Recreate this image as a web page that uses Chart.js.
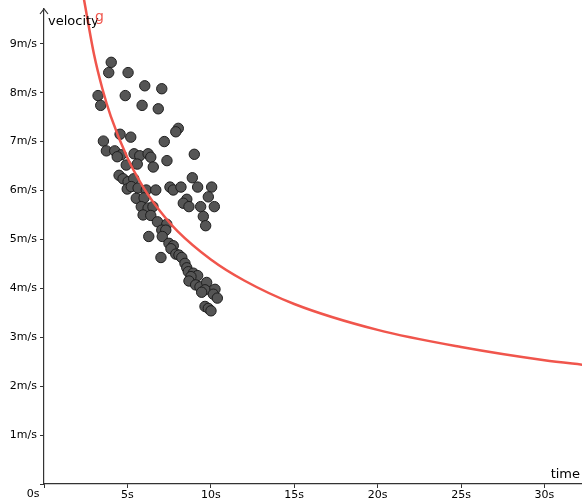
<!DOCTYPE html>
<html>
<head>
<meta charset="utf-8">
<title>velocity vs time</title>
<script src="https://cdn.jsdelivr.net/npm/chart.js@4.4.1/dist/chart.umd.min.js"></script>
<style>
  body { margin: 0; background: #fff; }
  canvas { display: block; }
</style>
</head>
<body>
<canvas id="velocityChart" width="582" height="499"></canvas>
<script>
// 📋 DATA
const sampleTimes = [
  4.03, 3.88, 5.04, 6.04, 7.06, 3.24, 4.87, 3.40, 5.88, 6.85,
  8.05, 7.90, 4.56, 5.20, 3.56, 7.21, 3.74, 4.24, 4.63, 4.39,
  5.40, 5.74, 5.59, 6.24, 6.40, 6.55, 4.93, 9.01, 7.37, 4.50,
  4.74, 5.04, 5.38, 4.99, 5.23, 5.64, 6.13, 6.70, 5.53, 6.00,
  5.83, 6.24, 6.53, 5.94, 6.40, 6.80, 6.28, 7.01, 8.89, 7.55,
  7.75, 8.21, 9.21, 10.05, 9.85, 8.56, 8.35, 8.69, 9.39, 10.21,
  9.55, 9.69, 7.36, 7.06, 7.30, 7.09, 7.49, 7.75, 7.61, 7.90,
  8.09, 8.26, 8.45, 8.56, 8.65, 8.95, 9.21, 8.81, 8.69, 9.09,
  9.35, 9.75, 9.65, 9.45, 10.25, 10.15, 10.39, 9.65, 9.85, 10.01
];
const sampleSpeeds = [
  8.62, 8.41, 8.41, 8.14, 8.08, 7.94, 7.94, 7.74, 7.74, 7.67,
  7.27, 7.20, 7.15, 7.09, 7.01, 7.00, 6.81, 6.81, 6.73, 6.69,
  6.75, 6.71, 6.54, 6.75, 6.68, 6.48, 6.52, 6.74, 6.61, 6.31,
  6.24, 6.18, 6.24, 6.03, 6.08, 6.05, 6.01, 6.01, 5.84, 5.85,
  5.67, 5.64, 5.67, 5.50, 5.49, 5.36, 5.06, 4.63, 6.26, 6.07,
  6.01, 6.07, 6.07, 6.07, 5.87, 5.82, 5.74, 5.67, 5.67, 5.67,
  5.47, 5.28, 5.31, 5.19, 5.19, 5.06, 4.92, 4.87, 4.81, 4.70,
  4.68, 4.63, 4.51, 4.42, 4.34, 4.31, 4.26, 4.24, 4.15, 4.07,
  4.03, 4.12, 3.97, 3.92, 3.98, 3.88, 3.80, 3.63, 3.59, 3.54
];

// red curve g, read at a few times
const curveTimes  = [2.40, 3.0, 3.5, 4.0, 5.0, 6.0, 7.0, 8.0, 10.0, 12.0, 15.0, 20.0, 25.0, 30.0, 32.5];
const curveSpeeds = [9.90, 8.78, 8.08, 7.52, 6.67, 6.04, 5.56, 5.17, 4.59, 4.16, 3.68, 3.15, 2.80, 2.53, 2.43];

// tick labels
const xTicks = [0, 5, 10, 15, 20, 25, 30];
const yTicks = [0, 1, 2, 3, 4, 5, 6, 7, 8, 9];
const xUnit = "s";
const yUnit = "m/s";

const xMax = 32.25;
const yMax = 9.71;

// 🔧 helpers
function toPoints(xs, ys) {
  return xs.map((x, i) => ({ x: x, y: ys[i] }));
}

const FONT = "'DejaVu Sans', 'Liberation Sans', sans-serif";
const AXIS_COLOR = "#333";

// 📐 stretch the plot box to the right edge (layout leaves a few px)
const fullWidth = {
  id: "fullWidth",
  afterLayout(chart) {
    const xs = chart.scales.x;
    const right = chart.width;
    xs.right = right;
    xs.width = right - xs.left;
    xs.configure();
    chart.chartArea.right = right;
    chart.chartArea.width = right - chart.chartArea.left;
  }
};

// ✏️ EXTRA DRAWING: arrow, axis titles, origin label
const axisDecor = {
  id: "axisDecor",
  afterDraw(chart) {
    const ctx = chart.ctx;
    const xs = chart.scales.x;
    const ys = chart.scales.y;
    const ax = xs.getPixelForValue(0);
    const top = chart.chartArea.top;

    ctx.save();
    // y axis arrow head
    ctx.strokeStyle = AXIS_COLOR;
    ctx.lineWidth = 1.2;
    ctx.beginPath();
    ctx.moveTo(ax - 4, top + 5);
    ctx.lineTo(ax, top);
    ctx.lineTo(ax + 4, top + 5);
    ctx.stroke();

    // axis titles
    ctx.fillStyle = "#000";
    ctx.font = "13px " + FONT;
    ctx.textBaseline = "alphabetic";
    ctx.textAlign = "left";
    ctx.fillText("velocity", ax + 4, 25);
    ctx.textAlign = "right";
    ctx.fillText("time", chart.width - 2, 478);

    // function name
    ctx.fillStyle = "#f0554c";
    ctx.font = "14px " + FONT;
    ctx.textAlign = "left";
    ctx.fillText("g", ax + 51, 21);

    // origin label
    ctx.fillStyle = "#000";
    ctx.font = "11px " + FONT;
    ctx.textAlign = "center";
    ctx.textBaseline = "top";
    ctx.fillText("0" + xUnit, ax - 11, ys.bottom + 5);
    ctx.restore();
  }
};

// keep the plot box fixed: no extra padding for edge labels
function fixX(scale) {
  scale.height = 15;
  scale.paddingLeft = 0;
  scale.paddingRight = 0;
}
function fixY(scale) {
  scale.width = 44;
  scale.paddingTop = 0;
  scale.paddingBottom = 0;
}

// 📊 CHART SETUP
let chart;
function setupChart() {
  const ctx = document.getElementById("velocityChart").getContext("2d");
  chart = new Chart(ctx, {
    type: "scatter",
    data: {
      datasets: [{
        label: "g",
        type: "line",
        data: toPoints(curveTimes, curveSpeeds),
        borderColor: "#f0554c",
        borderWidth: 2.5,
        pointRadius: 0,
        fill: false,
        tension: 0.4,
        cubicInterpolationMode: "monotone",
        clip: false
      }, {
        label: "samples",
        data: toPoints(sampleTimes, sampleSpeeds),
        backgroundColor: "#555555",
        borderColor: "#1e1e1e",
        borderWidth: 1,
        pointRadius: 5.2
      }]
    },
    options: {
      responsive: false,
      animation: false,
      layout: { padding: { top: 9, right: 0, left: 0, bottom: 0 } },
      plugins: {
        legend: { display: false },
        tooltip: { enabled: false }
      },
      scales: {
        x: {
          type: "linear",
          min: 0,
          max: xMax,
          afterBuildTicks: (scale) => { scale.ticks = xTicks.map(v => ({ value: v })); },
          afterFit: fixX,
          border: { color: AXIS_COLOR, width: 1.2 },
          grid: { drawOnChartArea: false, drawTicks: true, tickLength: 4, color: AXIS_COLOR },
          ticks: {
            padding: 1,
            maxRotation: 0,
            autoSkip: false,
            color: "#000",
            font: { family: FONT, size: 11 },
            callback: (v) => v === 0 ? "" : v + xUnit
          }
        },
        y: {
          type: "linear",
          min: 0,
          max: yMax,
          afterBuildTicks: (scale) => { scale.ticks = yTicks.map(v => ({ value: v })); },
          afterFit: fixY,
          border: { color: AXIS_COLOR, width: 1.2 },
          grid: { drawOnChartArea: false, drawTicks: true, tickLength: 4, color: AXIS_COLOR },
          ticks: {
            padding: 3,
            autoSkip: false,
            color: "#000",
            font: { family: FONT, size: 11 },
            callback: (v) => v === 0 ? "" : v + yUnit
          }
        }
      }
    },
    plugins: [fullWidth, axisDecor]
  });
}

setupChart();
</script>
</body>
</html>
